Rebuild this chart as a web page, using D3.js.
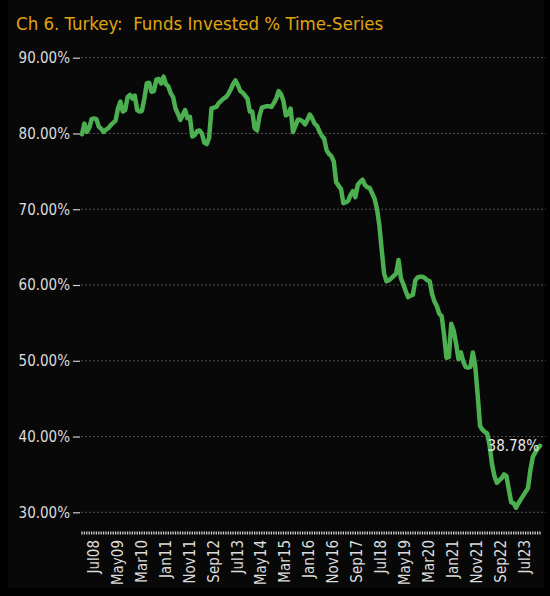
<!DOCTYPE html>
<html>
<head>
<meta charset="utf-8">
<script src="https://cdn.jsdelivr.net/npm/d3@7"></script>
<style>
  html, body { margin: 0; padding: 0; background: #000; }
  svg { display: block; }
</style>
</head>
<body>
<svg id="chart" width="550" height="596"></svg>
<script>
// ---- data ----
const title = "Ch 6. Turkey:  Funds Invested % Time-Series";
const firstMonth = "Jan08";
const xTickLabels = ["Jul08","May09","Mar10","Jan11","Nov11","Sep12","Jul13","May14","Mar15",
  "Jan16","Nov16","Sep17","Jul18","May19","Mar20","Jan21","Nov21","Sep22","Jul23"];
const yTicks = [30, 40, 50, 60, 70, 80, 90];
const fundsInvested = [
  79.9, 81.3, 80.2, 80.7, 81.9, 82.0, 81.9, 80.9, 80.6, 80.2, 80.5, 80.7,
  81.1, 81.4, 81.7, 83.3, 84.2, 82.9, 83.1, 84.8, 85.1, 84.6, 85.0, 83.1,
  82.9, 83.0, 84.6, 86.6, 86.7, 85.5, 85.6, 87.1, 87.2, 86.6, 87.5, 86.5,
  86.2, 85.3, 84.8, 83.3, 82.6, 81.8, 82.4, 83.1, 82.0, 82.2, 79.6, 79.8,
  80.3, 80.4, 80.0, 78.8, 78.6, 79.4, 83.3, 83.4, 83.5, 84.0, 84.3, 84.6,
  84.8, 85.2, 85.8, 86.5, 87.0, 86.4, 85.6, 85.4, 85.0, 84.6, 82.9, 82.9,
  80.7, 80.4, 82.3, 83.4, 83.5, 83.6, 83.6, 83.5, 84.0, 84.6, 85.6, 85.2,
  84.3, 82.4, 82.6, 83.3, 80.2, 81.0, 81.8, 81.8, 81.6, 81.2, 81.8, 82.5,
  82.0, 81.3, 81.0, 80.3, 79.7, 79.3, 77.8, 77.3, 77.0, 76.3, 73.6, 73.1,
  72.7, 70.8, 70.9, 71.1, 71.9, 72.4, 71.6, 73.2, 73.6, 73.9, 73.2, 72.9,
  72.8, 72.1, 71.4, 70.1, 67.9, 64.6, 61.5, 60.5, 60.6, 60.9, 61.2, 61.5,
  63.3, 60.9, 60.1, 59.2, 58.4, 58.6, 58.7, 60.6, 61.0, 61.1, 61.1, 60.9,
  60.6, 60.5, 58.8, 57.8, 57.2, 56.2, 55.9, 53.4, 50.4, 50.5, 54.9, 54.0,
  52.3, 50.2, 51.1, 49.9, 49.2, 49.1, 49.2, 51.1, 49.3, 45.5, 41.4, 40.9,
  40.6, 40.4, 38.8, 36.3, 34.8, 33.9, 34.2, 34.5, 35.0, 34.8, 33.0, 31.3,
  31.2, 30.6, 31.2, 31.7, 32.2, 32.7, 33.2, 35.6, 37.3, 37.9, 38.4, 38.78
];

// ---- setup ----
const svg = d3.select("#chart");
const W = 550, H = 596;
const FONT = "'DejaVu Sans Condensed', 'Liberation Sans Narrow', 'Roboto', sans-serif";
const parseM = d3.timeParse("%b%y");
const start = parseM(firstMonth);
const monthIndex = s => d3.timeMonth.count(start, parseM(s));

// background panel
svg.append("rect").attr("x", 0).attr("y", 0).attr("width", W).attr("height", H).attr("fill", "#000");
svg.append("rect").attr("x", 8).attr("y", 0).attr("width", 536).attr("height", 588).attr("fill", "#080808");

const x = d3.scaleLinear().domain([0, fundsInvested.length - 1]).range([82, 540]);
const y = d3.scaleLinear().domain([30, 90]).range([512.3, 57.7]);

// title
svg.append("text")
  .attr("x", 16).attr("y", 30)
  .attr("fill", "#e0a410")
  .style("font-family", FONT)
  .style("font-size", "18.5px")
  .style("white-space", "pre")
  .text(title);

// gridlines
svg.append("g").selectAll("line").data(yTicks).join("line")
  .attr("x1", 81).attr("x2", 546)
  .attr("y1", d => y(d)).attr("y2", d => y(d))
  .attr("stroke", "#505050").attr("stroke-width", 1)
  .attr("stroke-dasharray", "2,2");

// y axis
const yAxis = d3.axisLeft(y).tickValues(yTicks).tickSize(7).tickPadding(3)
  .tickFormat(d => d.toFixed(2) + "%");
const gy = svg.append("g").attr("transform", "translate(80,0)").call(yAxis);
gy.select(".domain").remove();
gy.selectAll(".tick line").attr("stroke", "#cfcfcf").attr("stroke-width", 1.2);
gy.selectAll(".tick text").attr("fill", "#dcdcdc")
  .style("font-family", FONT).style("font-size", "15px");

// x axis: monthly tick marks
const monthIdx = d3.range(fundsInvested.length);
svg.append("g").selectAll("line").data(monthIdx).join("line")
  .attr("x1", d => x(d)).attr("x2", d => x(d))
  .attr("y1", 531.5).attr("y2", 534.5)
  .attr("stroke", "#cfcfcf").attr("stroke-width", 1.3);

// x labels
svg.append("g").selectAll("text").data(xTickLabels).join("text")
  .attr("transform", d => `translate(${x(monthIndex(d)) - 3},540) rotate(-90)`)
  .attr("text-anchor", "end")
  .attr("dy", "0.35em")
  .attr("fill", "#dcdcdc")
  .style("font-family", FONT).style("font-size", "15px")
  .text(d => d);

// line
const line = d3.line().x((d, i) => x(i)).y(d => y(d));
svg.append("path").datum(fundsInvested)
  .attr("d", line)
  .attr("fill", "none")
  .attr("stroke", "#4caf50")
  .attr("stroke-width", 4.5)
  .attr("stroke-linejoin", "round")
  .attr("stroke-linecap", "round");

// last value label
const lastI = fundsInvested.length - 1;
svg.append("text")
  .attr("x", x(lastI) - 1).attr("y", y(fundsInvested[lastI]))
  .attr("dy", "0.35em")
  .attr("text-anchor", "end")
  .attr("fill", "#e8e8e8")
  .style("font-family", FONT).style("font-size", "15px")
  .text(fundsInvested[lastI].toFixed(2) + "%");
</script>
</body>
</html>
